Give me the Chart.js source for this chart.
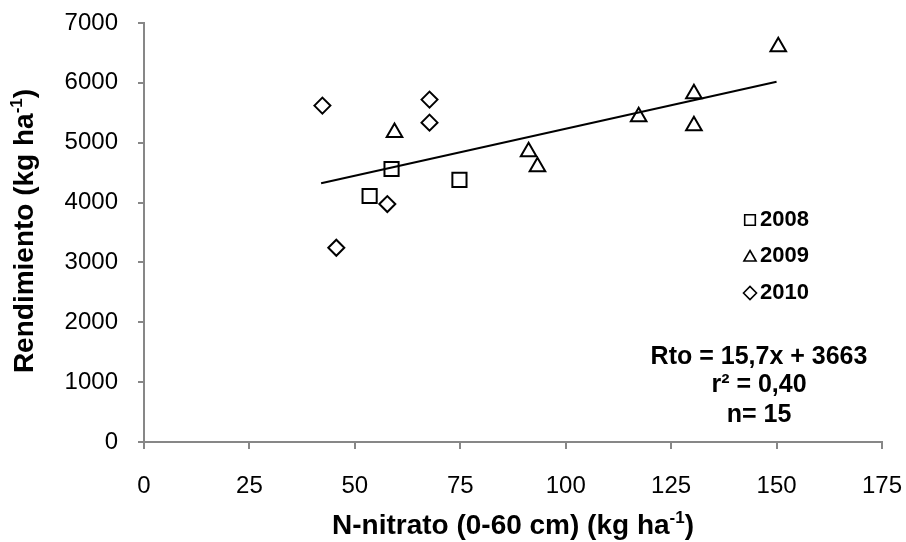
<!DOCTYPE html>
<html>
<head>
<meta charset="utf-8">
<script src="https://cdn.jsdelivr.net/npm/chart.js@4/dist/chart.umd.min.js"></script>
<style>
body { margin: 0; background: #fff; }
#wrap { width: 906px; height: 542px; }
</style>
</head>
<body>
<div id="wrap"><canvas id="chart" width="906" height="542"></canvas></div>
<script>
// values
var seriesNames = ['2008', '2009', '2010'];
var x2008 = [53.5, 58.7, 74.8];
var y2008 = [4110, 4560, 4380];
var x2009 = [59.4, 91.2, 93.3, 117.3, 130.4, 130.4, 150.4];
var y2009 = [5170, 4850, 4600, 5435, 5820, 5285, 6605];
var x2010 = [42.3, 45.6, 57.7, 67.7, 67.7];
var y2010 = [5620, 3245, 3975, 5720, 5335];
var trendX = [42, 150];
var trendY = [4322, 6018];
var xTicks = [0, 25, 50, 75, 100, 125, 150, 175];
var yTicks = [0, 1000, 2000, 3000, 4000, 5000, 6000, 7000];
var eqLines = ['Rto = 15,7x + 3663', 'r\u00B2 = 0,40', 'n= 15'];

var FONT = '"Liberation Sans", Arial, sans-serif';
var AXIS_GRAY = '#878787';

function toPoints(xs, ys){
    var pts = [];
    for(var i = 0; i < xs.length; i++){
        pts.push({x: xs[i], y: ys[i]});
    }
    return pts;
}

// title with a superscript "-1"
function drawSupTitle(ctx, before, sup, after, cx, cy, rotate){
    ctx.save();
    ctx.translate(cx, cy);
    if(rotate) ctx.rotate(-Math.PI / 2);
    ctx.fillStyle = '#000';
    ctx.textBaseline = 'middle';
    var big = 'bold 28px ' + FONT;
    var small = 'bold 17px ' + FONT;
    ctx.font = big;
    var w1 = ctx.measureText(before).width;
    var w3 = ctx.measureText(after).width;
    ctx.font = small;
    var w2 = ctx.measureText(sup).width;
    var x = -(w1 + w2 + w3) / 2;
    ctx.font = big;
    ctx.textAlign = 'left';
    ctx.fillText(before, x, 0);
    ctx.font = small;
    ctx.fillText(sup, x + w1, -8);
    ctx.font = big;
    ctx.fillText(after, x + w1 + w2, 0);
    ctx.restore();
}

var extras = {
    id: 'extras',
    afterDraw: function(chart){
        var ctx = chart.ctx;
        var styles = ['rect', 'triangle', 'rectRot'];
        var radii = [7.5, 7, 6.5];
        var ys = [220, 256, 293];
        ctx.save();
        for(var i = 0; i < seriesNames.length; i++){
            ctx.strokeStyle = '#000';
            ctx.fillStyle = 'rgba(0,0,0,0)';
            ctx.lineWidth = 1.6;
            Chart.helpers.drawPoint(ctx, {pointStyle: styles[i], radius: radii[i], rotation: 0, borderWidth: 1.6}, 750, ys[i] + (i == 1 ? 1.5 : 0));
            ctx.fillStyle = '#000';
            ctx.font = 'bold 22px ' + FONT;
            ctx.textAlign = 'left';
            ctx.textBaseline = 'middle';
            ctx.fillText(seriesNames[i], 760, ys[i]);
        }
        ctx.font = 'bold 25px ' + FONT;
        ctx.textAlign = 'center';
        var ly = [357, 385, 415];
        for(var j = 0; j < eqLines.length; j++){
            ctx.fillText(eqLines[j], 759, ly[j]);
        }
        ctx.restore();
        drawSupTitle(ctx, 'Rendimiento (kg ha', '-1', ')', 25, 231, true);
        drawSupTitle(ctx, 'N-nitrato (0-60 cm) (kg ha', '-1', ')', 513, 526, false);
    }
};

var ctx = document.getElementById('chart').getContext('2d');
var chart = new Chart(ctx, {
    type: 'scatter',
    data: {
        datasets: [{
            label: seriesNames[0],
            data: toPoints(x2008, y2008),
            pointStyle: 'rect',
            pointRadius: 10,
            borderColor: '#000',
            backgroundColor: 'rgba(0,0,0,0)',
            borderWidth: 2
        }, {
            label: seriesNames[1],
            data: toPoints(x2009, y2009),
            pointStyle: 'triangle',
            pointRadius: 9,
            borderColor: '#000',
            backgroundColor: 'rgba(0,0,0,0)',
            borderWidth: 2
        }, {
            label: seriesNames[2],
            data: toPoints(x2010, y2010),
            pointStyle: 'rectRot',
            pointRadius: 8,
            borderColor: '#000',
            backgroundColor: 'rgba(0,0,0,0)',
            borderWidth: 2
        }, {
            label: 'trend',
            type: 'line',
            data: toPoints(trendX, trendY),
            borderColor: '#000',
            borderWidth: 2,
            pointRadius: 0,
            fill: false
        }]
    },
    options: {
        responsive: false,
        animation: false,
        layout: { padding: { left: 0, right: 24, top: 23, bottom: 0 } },
        plugins: {
            legend: { display: false },
            tooltip: { enabled: false }
        },
        scales: {
            x: {
                type: 'linear',
                min: 0,
                max: 175,
                afterBuildTicks: function(scale){
                    scale.ticks = xTicks.map(function(v){ return {value: v}; });
                },
                afterFit: function(scale){
                    scale.height = 100;
                    scale.paddingLeft = 0;
                    scale.paddingRight = 0;
                },
                grid: { drawOnChartArea: false, color: AXIS_GRAY, lineWidth: 2, tickLength: 7 },
                border: { color: AXIS_GRAY, width: 2 },
                ticks: { color: '#000', padding: 23, font: { family: FONT, size: 24 },
                         callback: function(v){ return String(v); } }
            },
            y: {
                min: 0,
                max: 7000,
                afterBuildTicks: function(scale){
                    scale.ticks = yTicks.map(function(v){ return {value: v}; });
                },
                afterFit: function(scale){
                    scale.width = 144;
                    scale.paddingTop = 0;
                    scale.paddingBottom = 0;
                },
                grid: { drawOnChartArea: false, color: AXIS_GRAY, lineWidth: 2, tickLength: 6 },
                border: { color: AXIS_GRAY, width: 2 },
                ticks: { color: '#000', padding: 20, font: { family: FONT, size: 24 },
                         callback: function(v){ return String(v); } }
            }
        }
    },
    plugins: [extras]
});
</script>
</body>
</html>
